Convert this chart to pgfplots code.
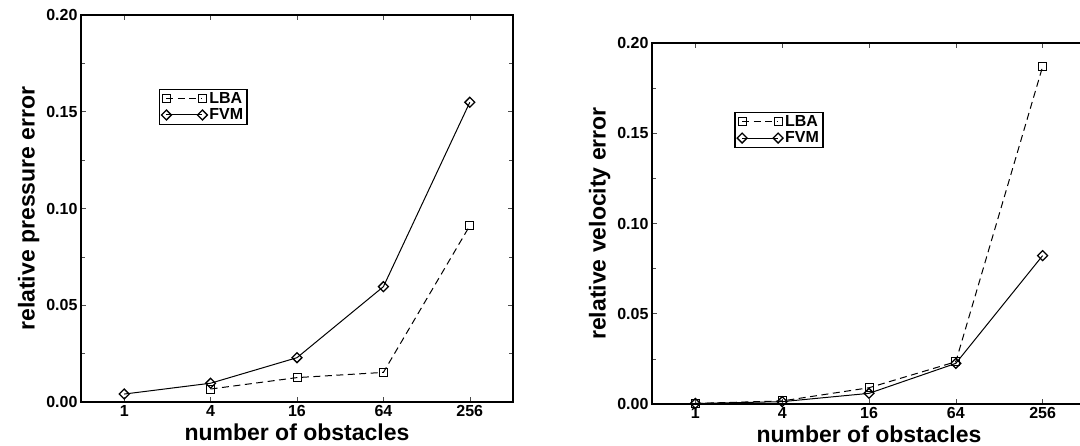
\documentclass[border=0pt]{standalone}
\usepackage{fontspec}
\setmainfont{Liberation Sans}
\usepackage{pgfplots}
\pgfplotsset{compat=1.18}

\pgfplotsset{
  obst/.style={
    scale only axis,
    xmin=-0.5, xmax=4.5,
    ymin=0, ymax=0.2,
    xtick={0,1,2,3,4},
    xticklabels={1,4,16,64,256},
    ytick={0,0.05,0.1,0.15,0.2},
    minor ytick={0.025,0.075,0.125,0.175},
    yticklabel style={/pgf/number format/.cd,fixed,fixed zerofill,precision=2},
    /pgf/number format/assume math mode=true,
    axis line style={line width=2pt},
    tick align=inside,
    major tick length=5pt, minor tick length=4pt,
    tick style={line width=0.6pt, black!70},
    tick label style={font=\fontsize{16}{16}\selectfont\bfseries},
    label style={font=\fontsize{23}{23}\selectfont\bfseries},
    xlabel={number of obstacles},
    legend cell align=left,
    legend style={draw=black, line width=1.4pt, fill=white,
      font=\fontsize{16}{16}\selectfont\bfseries,
      inner xsep=2pt, inner ysep=1pt, row sep=0pt,
      nodes={inner sep=2pt, line width=0.9pt}},
    legend image code/.code={\draw[#1] plot coordinates {(0pt,0pt) (36pt,0pt)};},
  },
  lba/.style={black, line width=1pt, dashed, dash pattern=on 7pt off 4.5pt,
    mark=square, mark size=4pt, mark options={solid, fill=white, line width=1pt}},
  fvm/.style={black, line width=1pt, solid,
    mark=square, mark size=3.5pt, mark options={solid, rotate=45, fill=white, line width=1.3pt}},
}

\begin{document}
\begin{tikzpicture}
\useasboundingbox (0,0) rectangle (1080pt,446pt);

% left panel: pressure
\begin{axis}[obst,
    at={(81pt,44pt)}, anchor=south west,
    width=432pt, height=387pt,
    ylabel={relative pressure error},
    legend style={at={(0.18,0.81)}, anchor=north west},
]
\addplot[lba] coordinates {(1,0.0067) (2,0.0126) (3,0.0153) (4,0.0911)};
\addplot[fvm] coordinates {(0,0.0041) (1,0.0097) (2,0.0229) (3,0.0596) (4,0.1549)};
\legend{LBA,FVM}
\end{axis}

% right panel: velocity (cut at the right edge)
\begin{axis}[obst,
    at={(652pt,42pt)}, anchor=south west,
    width=434pt, height=361pt,
    ylabel={relative velocity error},
    legend style={at={(0.19,0.81)}, anchor=north west},
]
\addplot[lba] coordinates {(0,0.0003) (1,0.0017) (2,0.0090) (3,0.0234) (4,0.1869)};
\addplot[fvm] coordinates {(0,0.0003) (1,0.0013) (2,0.0059) (3,0.0225) (4,0.0822)};
\legend{LBA,FVM}
\end{axis}
\end{tikzpicture}
\end{document}
